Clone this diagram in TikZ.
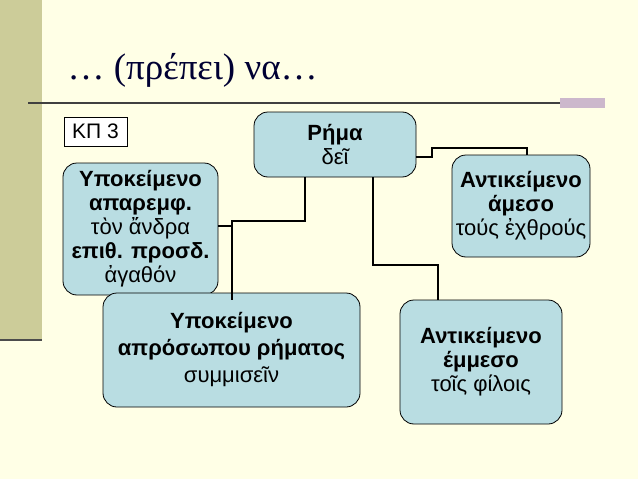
\documentclass[tikz,border=0pt]{standalone}
\usepackage{fontspec}
\setmainfont{Liberation Sans}
\newfontfamily\titlefont{Liberation Serif}
\begin{document}
\begin{tikzpicture}[x=1pt,y=-1pt]

% Set the overall look of the slide
\definecolor{slidebg}{HTML}{FFFFE6}
\definecolor{olivebar}{HTML}{CCCC99}
\definecolor{bubblefill}{HTML}{B9DDE2}
\tikzset{bubble/.style={draw=black, fill=bubblefill, rounded corners=14pt, line width=0.8pt, align=center, font=\fontsize{22}{24}\selectfont, inner sep=1pt},
         joint/.style={line width=1.4pt}}

\fill[slidebg] (0,0) rectangle (638,479);
\useasboundingbox (0,0) rectangle (638,479);
\fill[olivebar] (0,0) rectangle (42,340);
\draw[line width=1.2pt, black!70] (0,340) -- (42,340);
\draw[line width=1.2pt, black!75] (28,103) -- (605,103);
\fill[gray!60!violet!40] (560,98) rectangle (605,108);

\node[anchor=west, font=\titlefont\fontsize{37}{40}\selectfont, text=black!80!blue] (title) at (64,70) {… (πρέπει) να…};

\node[draw, fill=white, minimum width=63pt, minimum height=29pt, font=\fontsize{21}{23}\selectfont] (kp) at (95.5,131.5) {ΚΠ 3};

\node[bubble, minimum width=162pt, minimum height=65pt] (rima) at (335,144.5) {\textbf{Ρήμα}\\δεῖ};
\node[bubble, minimum width=155pt, minimum height=132pt] (ypok) at (140.5,229) {\textbf{Υποκείμενο}\\\textbf{απαρεμφ.}\\τὸν ἄνδρα\\\textbf{επιθ. προσδ.}\\ἀγαθόν};
\node[bubble, minimum width=138pt, minimum height=102pt] (ames) at (521,206) {\textbf{Αντικείμενο}\\\textbf{άμεσο}\\τούς ἐχθρούς};
\node[bubble, minimum width=257pt, minimum height=114pt, font=\fontsize{22}{27}\selectfont] (aprs) at (231.5,350) {\textbf{Υποκείμενο}\\\textbf{απρόσωπου ρήματος}\\συμμισεῖν};
\node[bubble, minimum width=162pt, minimum height=124pt] (emm) at (481,362) {\textbf{Αντικείμενο}\\\textbf{έμμεσο}\\τοῖς φίλοις};

% connectors
\coordinate (j1) at (232,226);
\draw[joint] (rima.south -| 305,0) |- (232,221) -- (232,300);
\draw[joint] (ypok.east |- j1) -- (j1);
\draw[joint] (rima.south -| 373,0) |- (438,265) -- (emm.north -| 438,0);
\draw[joint] (rima.east |- 0,157) -- (432,157) -- (432,148) -| (ames.north -| 527,0);
\end{tikzpicture}
\end{document}
